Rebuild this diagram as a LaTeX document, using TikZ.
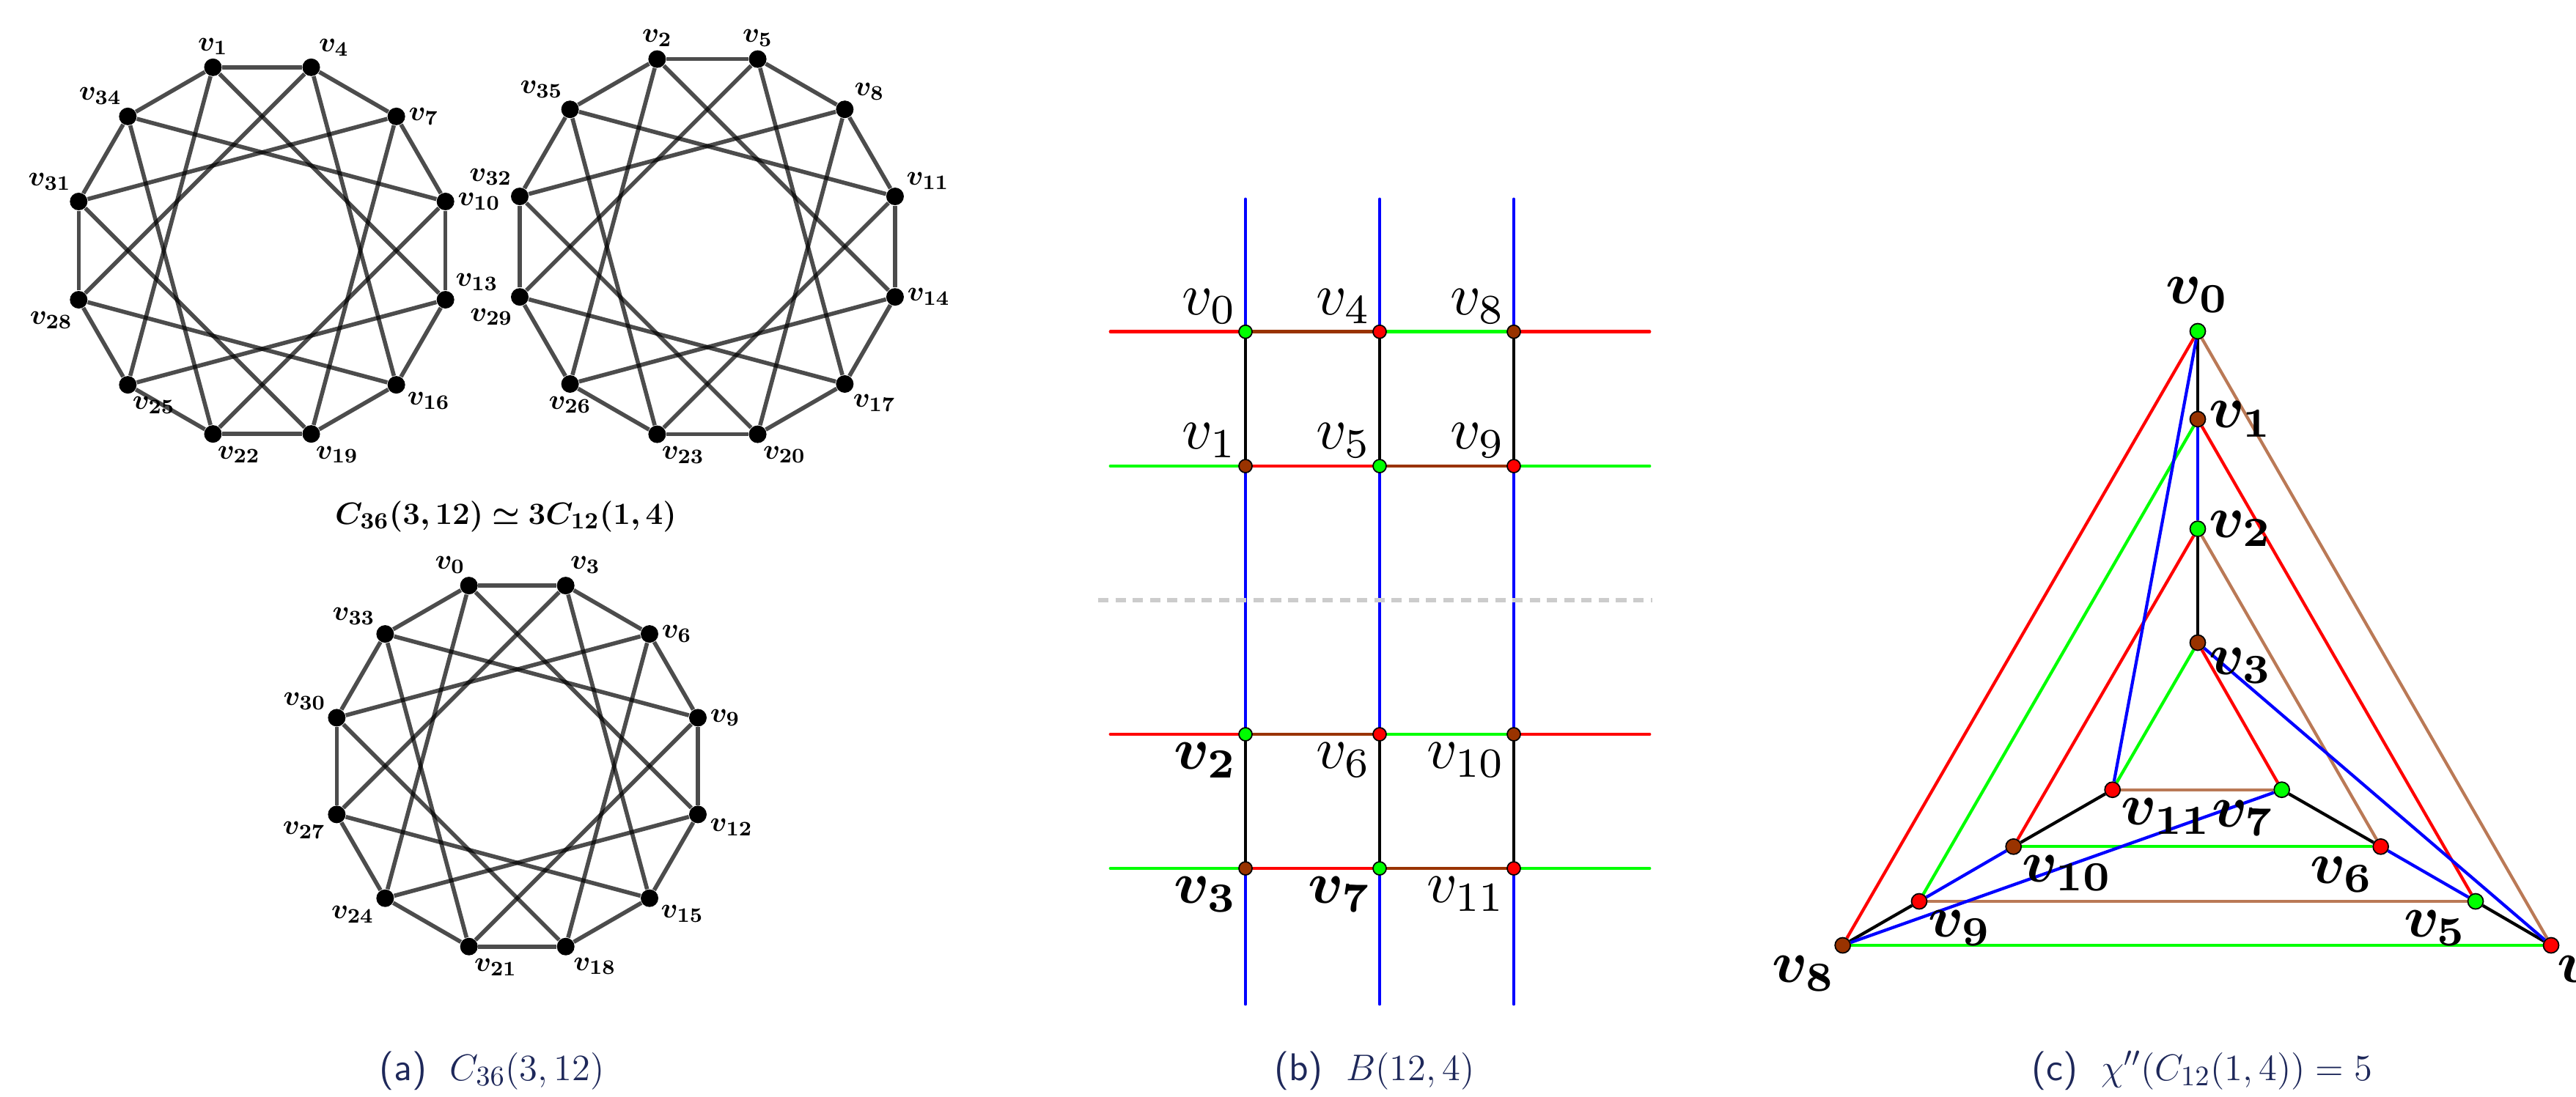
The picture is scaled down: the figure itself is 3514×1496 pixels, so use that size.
\documentclass[tikz,border=0pt]{standalone}
\usepackage{amssymb}
\usepackage{bm}
\usetikzlibrary{backgrounds}

\definecolor{vgreen}{RGB}{0,255,0}
\definecolor{vbrown}{RGB}{153,51,0}
\definecolor{lbrown}{RGB}{186,121,86}
\definecolor{capblue}{RGB}{30,40,90}

\newcommand\bigv[1]{\scalebox{2.3}{$#1$}}

\begin{document}
\begin{tikzpicture}[x=0.1mm,y=-0.1mm,
  dot/.style={circle,fill=black,inner sep=0pt,minimum size=2.4mm},
  ring/.style={line width=1.6pt,draw=black,opacity=0.7},
  rlab/.style={font=\fontsize{11}{13}\selectfont,inner sep=1pt},
  bv/.style={circle,draw=black,line width=0.5pt,inner sep=0pt,minimum size=1.8mm},
  cv/.style={bv,minimum size=2.1mm},
  blab/.style={inner sep=1pt},
  bline/.style={line width=1.4pt,line cap=round},
  cline/.style={line width=1.2pt},
  captext/.style={font=\fontsize{15}{18}\selectfont,text=capblue,anchor=base}]

  \useasboundingbox (0,0) rectangle (3514,1496);

  % (a) three copies of C_12(1,4)
  \foreach \k/\la in {0/90,1/60,2/0,3/0,4/40,5/-30,6/-80,7/-80,8/-80,9/-110,10/120,11/110}{
    \pgfmathtruncatemacro\n{1+3*\k}
    \node[dot,label={[rlab]\la:$\bm{v_{\n}}$}] (A\k) at ({357.5+259*cos(105-30*\k)},{342-259*sin(105-30*\k)}) {};
  }
  \foreach \k/\la in {0/90,1/90,2/45,3/25,4/0,5/-55,6/-75,7/-80,8/-90,9/-115,10/120,11/117}{
    \pgfmathtruncatemacro\n{2+3*\k}
    \node[dot,label={[rlab]\la:$\bm{v_{\n}}$}] (B\k) at ({965+265*cos(105-30*\k)},{336.6-265*sin(105-30*\k)}) {};
  }
  \foreach \k/\la in {0/95,1/80,2/0,3/0,4/-10,5/-25,6/-60,7/-75,8/-150,9/-152,10/146,11/138}{
    \pgfmathtruncatemacro\n{3*\k}
    \node[dot,label={[rlab]\la:$\bm{v_{\n}}$}] (C\k) at ({705.7+255*cos(105-30*\k)},{1045.4-255*sin(105-30*\k)}) {};
  }
  \begin{pgfonlayer}{background}
    \foreach \rg in {A,B,C}{
      \foreach \k in {0,...,11}{
        \pgfmathtruncatemacro\a{mod(\k+1,12)}
        \pgfmathtruncatemacro\b{mod(\k+4,12)}
        \draw[ring] (\rg\k) -- (\rg\a);
        \draw[ring] (\rg\k) -- (\rg\b);
      }
    }
  \end{pgfonlayer}
  \node[font=\fontsize{12.5}{15}\selectfont,anchor=base] (title) at (690,715) {$\bm{C_{36}(3,12)\simeq 3C_{12}(1,4)}$};

  % (b) B(12,4)
  \coordinate (sl) at (1498,819);
  \coordinate (sr) at (2254,819);
  \draw[draw=black!20,line width=1.7pt,dash pattern=on 4pt off 2.7pt] (sl) -- (sr);

  \node[bv,fill=vgreen,label={[blab]above left:\bigv{v_0}}] (b0) at (1699,452.7) {};
  \node[bv,fill=red,label={[blab]above left:\bigv{v_4}}] (b4) at (1882,452.7) {};
  \node[bv,fill=vbrown,label={[blab]above left:\bigv{v_8}}] (b8) at (2065,452.7) {};
  \node[bv,fill=vbrown,label={[blab]above left:\bigv{v_1}}] (b1) at (1699,636) {};
  \node[bv,fill=vgreen,label={[blab]above left:\bigv{v_5}}] (b5) at (1882,636) {};
  \node[bv,fill=red,label={[blab]above left:\bigv{v_9}}] (b9) at (2065,636) {};
  \node[bv,fill=vgreen,label={[blab]below left:\bigv{\bm{v_2}}}] (b2) at (1699,1002) {};
  \node[bv,fill=red,label={[blab]below left:\bigv{v_6}}] (b6) at (1882,1002) {};
  \node[bv,fill=vbrown,label={[blab]below left:\bigv{v_{10}}}] (b10) at (2065,1002) {};
  \node[bv,fill=vbrown,label={[blab]below left:\bigv{\bm{v_3}}}] (b3) at (1699,1185) {};
  \node[bv,fill=vgreen,label={[blab]below left:\bigv{\bm{v_7}}}] (b7) at (1882,1185) {};
  \node[bv,fill=red,label={[blab]below left:\bigv{v_{11}}}] (b11) at (2065,1185) {};

  \coordinate (L0) at (1515,452.7); \coordinate (R0) at (2250,452.7);
  \coordinate (L1) at (1515,636);   \coordinate (R1) at (2250,636);
  \coordinate (L2) at (1515,1002);  \coordinate (R2) at (2250,1002);
  \coordinate (L3) at (1515,1185);  \coordinate (R3) at (2250,1185);
  \coordinate (T0) at (1699,272); \coordinate (D0) at (1699,1370);
  \coordinate (T1) at (1882,272); \coordinate (D1) at (1882,1370);
  \coordinate (T2) at (2065,272); \coordinate (D2) at (2065,1370);

  \begin{pgfonlayer}{background}
    \draw[bline,red] (L0) -- (b0);
    \draw[bline,vbrown] (b0) -- (b4);
    \draw[bline,vgreen] (b4) -- (b8);
    \draw[bline,red] (b8) -- (R0);
    \draw[bline,vgreen] (L1) -- (b1);
    \draw[bline,red] (b1) -- (b5);
    \draw[bline,vbrown] (b5) -- (b9);
    \draw[bline,vgreen] (b9) -- (R1);
    \draw[bline,red] (L2) -- (b2);
    \draw[bline,vbrown] (b2) -- (b6);
    \draw[bline,vgreen] (b6) -- (b10);
    \draw[bline,red] (b10) -- (R2);
    \draw[bline,vgreen] (L3) -- (b3);
    \draw[bline,red] (b3) -- (b7);
    \draw[bline,vbrown] (b7) -- (b11);
    \draw[bline,vgreen] (b11) -- (R3);
    \draw[bline,black] (b0) -- (b1);
    \draw[bline,black] (b4) -- (b5);
    \draw[bline,black] (b8) -- (b9);
    \draw[bline,black] (b2) -- (b3);
    \draw[bline,black] (b6) -- (b7);
    \draw[bline,black] (b10) -- (b11);
    \draw[bline,blue] (T0) -- (b0);
    \draw[bline,blue] (T1) -- (b4);
    \draw[bline,blue] (T2) -- (b8);
    \draw[bline,blue] (b1) -- (b2);
    \draw[bline,blue] (b5) -- (b6);
    \draw[bline,blue] (b9) -- (b10);
    \draw[bline,blue] (b3) -- (D0);
    \draw[bline,blue] (b7) -- (D1);
    \draw[bline,blue] (b11) -- (D2);
  \end{pgfonlayer}

  % (c) total colouring of C_12(1,4)
  \node[cv,fill=vgreen,label={[blab,label distance=1mm]above:\bigv{\bm{v_0}}}] (c0) at (2998,452) {};
  \node[cv,fill=vbrown,label={[blab]right:\bigv{\bm{v_1}}}] (c1) at (2998,572) {};
  \node[cv,fill=vgreen,label={[blab]right:\bigv{\bm{v_2}}}] (c2) at (2998,721.6) {};
  \node[cv,fill=vbrown,label={[blab]-15:\bigv{\bm{v_3}}}] (c3) at (2998,877) {};
  \node[cv,fill=red,label={[blab]-70:\bigv{\bm{v_4}}}] (c4) at (3480,1290) {};
  \node[cv,fill=vgreen,label={[blab]-130:\bigv{\bm{v_5}}}] (c5) at (3377,1230) {};
  \node[cv,fill=red,label={[blab]-120:\bigv{\bm{v_6}}}] (c6) at (3247.6,1155.3) {};
  \node[cv,fill=vgreen,label={[blab]-115:\bigv{\bm{v_7}}}] (c7) at (3112.6,1077.7) {};
  \node[cv,fill=vbrown,label={[blab]-120:\bigv{\bm{v_8}}}] (c8) at (2513.7,1290) {};
  \node[cv,fill=red,label={[blab]below right:\bigv{\bm{v_9}}}] (c9) at (2618,1230) {};
  \node[cv,fill=vbrown,label={[blab]below right:\bigv{\bm{v_{10}}}}] (c10) at (2746.7,1155.3) {};
  \node[cv,fill=red,label={[blab]below right:\bigv{\bm{v_{11}}}}] (c11) at (2881.7,1077.7) {};

  \begin{pgfonlayer}{background}
    \draw[cline,vgreen] (c1) -- (c9);
    \draw[cline,vgreen] (c3) -- (c11);
    \draw[cline,vgreen] (c10) -- (c6);
    \draw[cline,vgreen] (c8) -- (c4);
    \draw[cline,lbrown] (c0) -- (c4);
    \draw[cline,lbrown] (c2) -- (c6);
    \draw[cline,lbrown] (c11) -- (c7);
    \draw[cline,lbrown] (c9) -- (c5);
    \draw[cline,red] (c0) -- (c8);
    \draw[cline,red] (c1) -- (c5);
    \draw[cline,red] (c2) -- (c10);
    \draw[cline,red] (c3) -- (c7);
    \draw[cline,black] (c0) -- (c1);
    \draw[cline,black] (c2) -- (c3);
    \draw[cline,black] (c11) -- (c10);
    \draw[cline,black] (c7) -- (c6);
    \draw[cline,black] (c9) -- (c8);
    \draw[cline,black] (c5) -- (c4);
    \draw[cline,blue] (c1) -- (c2);
    \draw[cline,blue] (c0) -- (c11);
    \draw[cline,blue] (c3) -- (c4);
    \draw[cline,blue] (c7) -- (c8);
    \draw[cline,blue] (c9) -- (c10);
    \draw[cline,blue] (c5) -- (c6);
  \end{pgfonlayer}

  % captions
  \node[captext] (capa) at (671,1474) {\textsf{(a)}\hspace{0.6em}$C_{36}(3,12)$};
  \node[captext] (capb) at (1875,1474) {\textsf{(b)}\hspace{0.6em}$B(12,4)$};
  \node[captext] (capc) at (3004,1474) {\textsf{(c)}\hspace{0.6em}$\chi''(C_{12}(1,4))=5$};
\end{tikzpicture}
\end{document}
